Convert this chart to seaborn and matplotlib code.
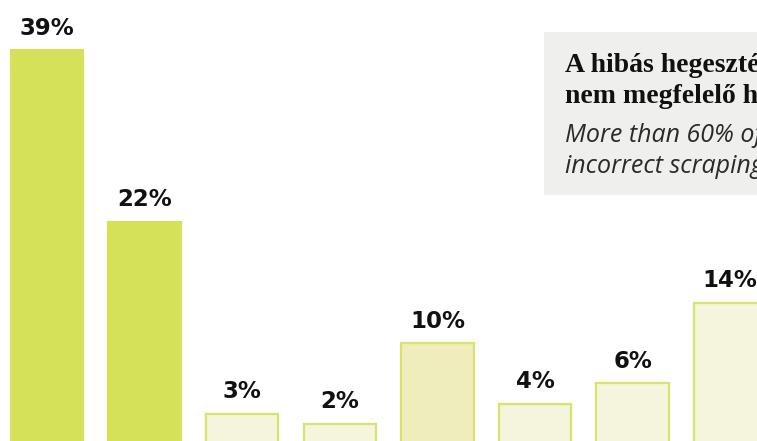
import matplotlib
matplotlib.use("Agg")
import matplotlib.pyplot as plt
import seaborn as sns
import pandas as pd
from matplotlib.patches import Rectangle

categories = ["c1", "c2", "c3", "c4", "c5", "c6", "c7", "c8"]
values = [39, 22, 3, 2, 10, 4, 6, 14]
labels = ["39%", "22%", "3%", "2%", "10%", "4%", "6%", "14%"]
fills = ["#d4e159", "#d4e159", "#f5f4dc", "#f5f4dc", "#efedbb", "#f5f4dc", "#f5f4dc", "#f5f4dc"]
edges = ["#d4e159", "#d4e159", "#d8e36c", "#d8e36c", "#d8e36c", "#d8e36c", "#d8e36c", "#d8e36c"]

title_lines = ["A hibás hegesztések több mint 60%-a", "nem megfelelő hántolás miatt következik be"]
sub_lines = ["More than 60% of faulty welds are caused by", "incorrect scraping"]

sns.set_theme(style="white")
W, H, DPI = 757, 441, 100
fig = plt.figure(figsize=(W / DPI, H / DPI), dpi=DPI)
ax = fig.add_axes([0, 0, 1, 1])

df = pd.DataFrame({"cat": categories, "val": values})
sns.barplot(data=df, x="cat", y="val", hue="cat", palette=fills, legend=False,
            width=0.74, ax=ax, linewidth=1.6, saturation=1)
for p, ec in zip(ax.patches, edges):
    p.set_edgecolor(ec)

for p, lab in zip(ax.patches, labels):
    ax.annotate(lab, (p.get_x() + p.get_width() / 2, p.get_height()),
                xytext=(0, 7.5), textcoords="offset points",
                ha="center", va="bottom", fontsize=16.5, fontweight="bold",
                family="DejaVu Sans", color="#111111")

spacing = 97.6
ax.set_xlim(-47 / spacing, -47 / spacing + W / spacing)
ppu = 10.1
ax.set_ylim(3 / ppu, 3 / ppu + H / ppu)
ax.axis("off")

# annotation box
fig.patches.append(Rectangle((544 / W, 1 - 195 / H), 300 / W, (195 - 32) / H,
                             transform=fig.transFigure, facecolor="#eff0ee",
                             edgecolor="none", zorder=0))
x0 = 565 / W
for i, t in enumerate(title_lines):
    fig.text(x0, 1 - (72 + 31 * i) / H, t, fontsize=20, fontweight="bold",
             family="Liberation Serif", color="#111111", va="baseline")
for i, t in enumerate(sub_lines):
    fig.text(x0, 1 - (142 + 31 * i) / H, t, fontsize=18, style="italic",
             family="Open Sans", color="#2a2a2a", va="baseline")

fig.savefig("out.png", dpi=DPI)
